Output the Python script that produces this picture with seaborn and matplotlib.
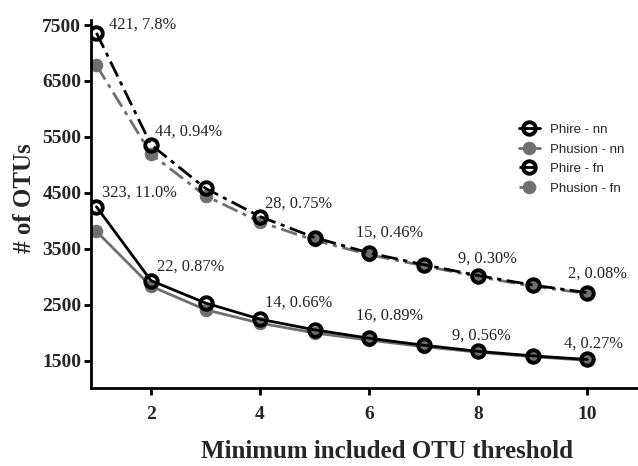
import matplotlib
matplotlib.use("Agg")
import matplotlib.pyplot as plt
import seaborn as sns
import numpy as np

# ---- data ----
thresholds = [1, 2, 3, 4, 5, 6, 7, 8, 9, 10]
phire_nn = [4250, 2930, 2530, 2240, 2050, 1900, 1775, 1665, 1585, 1520]
phusion_nn = [3810, 2830, 2410, 2170, 1995, 1865, 1750, 1650, 1570, 1505]
phire_fn = [7360, 5360, 4580, 4075, 3700, 3425, 3215, 3020, 2850, 2715]
phusion_fn = [6780, 5195, 4445, 3980, 3650, 3395, 3195, 3000, 2830, 2700]

label_x = [1, 2, 4, 6, 8, 10]
fn_labels = ["421, 7.8%", "44, 0.94%", "28, 0.75%", "15, 0.46%", "9, 0.30%", "2, 0.08%"]
nn_labels = ["323, 11.0%", "22, 0.87%", "14, 0.66%", "16, 0.89%", "9, 0.56%", "4, 0.27%"]

x_ticks = [2, 4, 6, 8, 10]
y_ticks = [1500, 2500, 3500, 4500, 5500, 6500, 7500]

sns.set_theme(style="ticks")
plt.rcParams['font.family'] = ['Liberation Serif', 'DejaVu Serif']

fig = plt.figure(figsize=(6.38, 4.66), dpi=100)
ax = fig.add_axes([91/638, 1 - 388/466, 1 - 91/638, (388 - 20) / 466])

gray = "#6f6f6f"
common = dict(lw=2, markersize=9, ax=ax)

sns.lineplot(x=thresholds, y=phusion_fn, color=gray, marker="o", mfc=gray, mec=gray,
             linestyle=(0, (6, 2, 1.5, 2)), label="Phusion - fn", **common)
sns.lineplot(x=thresholds, y=phusion_nn, color=gray, marker="o", mfc=gray, mec=gray,
             linestyle="-", label="Phusion - nn", **common)
sns.lineplot(x=thresholds, y=phire_fn, color="black", marker="o", mfc="none", mec="black",
             mew=2.8, linestyle=(0, (6, 2, 1.5, 2)), label="Phire - fn", **common)
sns.lineplot(x=thresholds, y=phire_nn, color="black", marker="o", mfc="none", mec="black",
             mew=2.8, linestyle="-", label="Phire - nn", **common)

# annotations
fn_off = [(13, 8), (4, 13), (5, 13), (-13, 20), (-20, 17), (-19, 19)]
nn_off = [(6, 14), (6, 14), (5, 17), (-13, 23), (-26, 16), (-23, 16)]
for xv, lab, off in zip(label_x, fn_labels, fn_off):
    ax.annotate(lab, xy=(xv, phire_fn[thresholds.index(xv)]), xytext=off,
                textcoords="offset pixels", ha="left", va="center", fontsize=11.8,
                color="#222222")
for xv, lab, off in zip(label_x, nn_labels, nn_off):
    ax.annotate(lab, xy=(xv, phire_nn[thresholds.index(xv)]), xytext=off,
                textcoords="offset pixels", ha="left", va="center", fontsize=11.8,
                color="#222222")

ax.set_xlim(0.9, 10.93)
ax.set_ylim(1010, 7590)
ax.set_xticks(x_ticks)
ax.set_yticks(y_ticks)
for lab in ax.get_xticklabels() + ax.get_yticklabels():
    lab.set_fontweight("bold")
    lab.set_fontsize(14)
ax.tick_params(direction="out", length=5, width=2, color="black", pad=2)
ax.tick_params(axis="x", pad=8)
for s in ["left", "bottom"]:
    ax.spines[s].set_linewidth(2)
    ax.spines[s].set_color("black")
sns.despine(ax=ax)

ax.set_xlabel("Minimum included OTU threshold", fontsize=18, fontweight="bold")
ax.xaxis.label.set_va("center")
ax.xaxis.set_label_coords(0.541, -0.172)
ax.set_ylabel("# of OTUs", fontsize=18, fontweight="bold")
ax.yaxis.label.set_va("center")
ax.yaxis.label.set_ha("center")
ax.yaxis.set_label_coords(-0.121, 0.516)

handles, labels = ax.get_legend_handles_labels()
order = ["Phire - nn", "Phusion - nn", "Phire - fn", "Phusion - fn"]
hmap = dict(zip(labels, handles))
leg = ax.legend([hmap[o] for o in order], order, loc="upper left",
                bbox_to_anchor=(0.76, 0.75), frameon=False,
                prop={"family": "Liberation Sans", "size": 9.5},
                handlelength=1.6, labelspacing=0.55)

fig.savefig("out.png", dpi=100)
